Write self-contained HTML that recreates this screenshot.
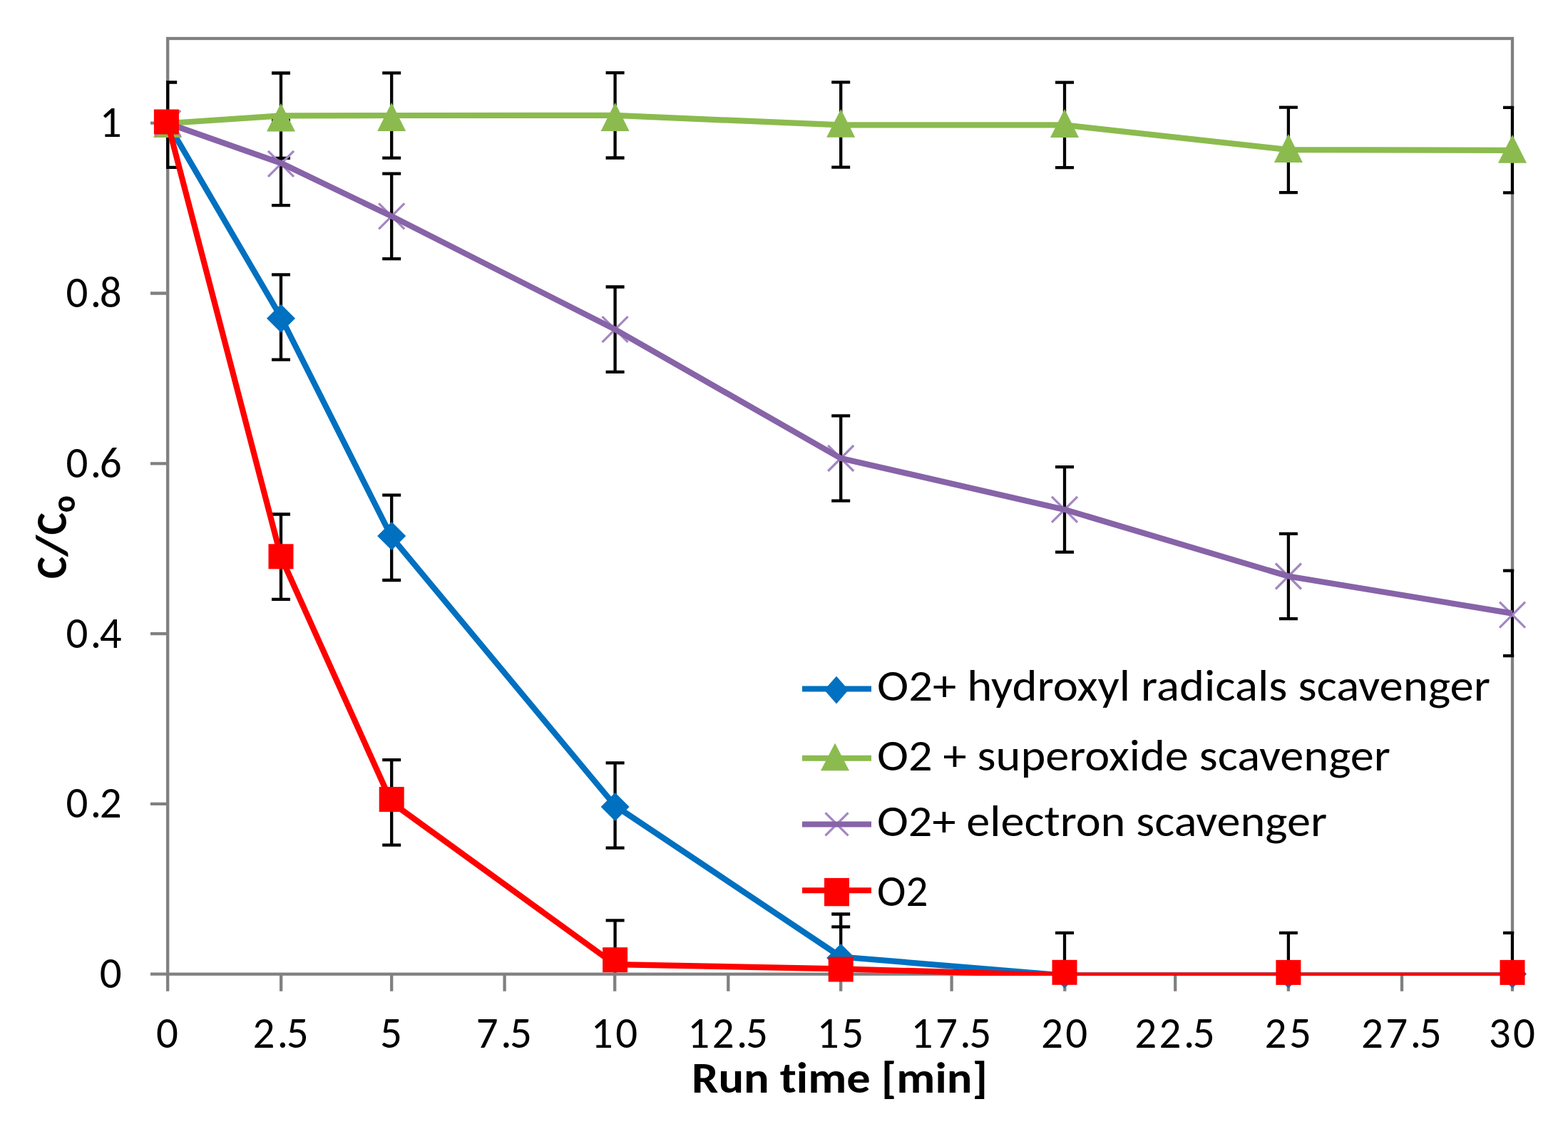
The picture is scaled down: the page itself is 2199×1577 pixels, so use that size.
<!DOCTYPE html>
<html><head><meta charset="utf-8"><title>C/C0 vs Run time</title>
<style>html,body{margin:0;padding:0;background:#fff;width:2199px;height:1577px;overflow:hidden}svg{display:block}</style>
</head><body><svg width="2199" height="1577" viewBox="0 0 2199 1577" font-family="Carlito, 'Liberation Sans', sans-serif" font-size="61" style="font-variant-ligatures:none"><rect width="2199" height="1577" fill="#fff"/><defs><clipPath id="pa"><rect x="233" y="54.0" width="1890.1999999999998" height="1314.9"/></clipPath><clipPath id="pe"><rect x="233" y="54.0" width="1890.1999999999998" height="1310.6"/></clipPath></defs><rect x="235.2" y="54.0" width="1885.8" height="1312.7" fill="none" stroke="#808080" stroke-width="4.3"/><path d="M211 1366.7H235.2M211 1127.9H235.2M211 889.1H235.2M211 650.3H235.2M211 411.5H235.2M211 172.7H235.2M235.2 1366.7V1390.7M394.2 1366.7V1390.7M549.2 1366.7V1390.7M707.6 1366.7V1390.7M862.2 1366.7V1390.7M1021.3 1366.7V1390.7M1179.2 1366.7V1390.7M1334.6 1366.7V1390.7M1493.3 1366.7V1390.7M1648.2 1366.7V1390.7M1806.9 1366.7V1390.7M1966 1366.7V1390.7M2121 1366.7V1390.7" stroke="#808080" stroke-width="4.3" fill="none"/><path d="M394 385.3V504.7M381 385.3H407M381 504.7H407M549.2 694.6V814M536.2 694.6H562.2M536.2 814H562.2M862.6 1070.3V1189.7M849.6 1070.3H875.6M849.6 1189.7H875.6M1179.2 1282.5V1401.9M1166.2 1282.5H1192.2M1166.2 1401.9H1192.2M1493 1308.9V1428.3M1480 1308.9H1506M1480 1428.3H1506M1806.9 1308.9V1428.3M1793.9 1308.9H1819.9M1793.9 1428.3H1819.9M2121 1308.9V1428.3M2108 1308.9H2134M2108 1428.3H2134M394 102.5V221.9M381 102.5H407M381 221.9H407M549.2 102.3V221.7M536.2 102.3H562.2M536.2 221.7H562.2M862.6 102.1V221.5M849.6 102.1H875.6M849.6 221.5H875.6M1179.2 115.3V234.7M1166.2 115.3H1192.2M1166.2 234.7H1192.2M1493 115.7V235.1M1480 115.7H1506M1480 235.1H1506M1806.9 150.7V270.1M1793.9 150.7H1819.9M1793.9 270.1H1819.9M2121 150.9V270.3M2108 150.9H2134M2108 270.3H2134M394 168.7V288.1M381 168.7H407M381 288.1H407M549.2 243.7V363.1M536.2 243.7H562.2M536.2 363.1H562.2M862.6 402.5V521.9M849.6 402.5H875.6M849.6 521.9H875.6M1179.2 583.3V702.7M1166.2 583.3H1192.2M1166.2 702.7H1192.2M1493 655.2V774.6M1480 655.2H1506M1480 774.6H1506M1806.9 748.8V868.2M1793.9 748.8H1819.9M1793.9 868.2H1819.9M2121 800.7V920.1M2108 800.7H2134M2108 920.1H2134M235.2 115.5V234.9M222.2 115.5H248.2M222.2 234.9H248.2M394 721.5V840.9M381 721.5H407M381 840.9H407M549.2 1066.2V1185.6M536.2 1066.2H562.2M536.2 1185.6H562.2M862.6 1291.3V1410.7M849.6 1291.3H875.6M849.6 1410.7H875.6M1179.2 1300.3V1419.7M1166.2 1300.3H1192.2M1166.2 1419.7H1192.2M1493 1308.9V1428.3M1480 1308.9H1506M1480 1428.3H1506M1806.9 1308.8V1428.2M1793.9 1308.8H1819.9M1793.9 1428.2H1819.9M2121 1308.9V1428.3M2108 1308.9H2134M2108 1428.3H2134" stroke="#000" stroke-width="4.3" fill="none" clip-path="url(#pe)"/><polyline points="235.2,173 394,445 549.2,753.5 862.6,1130.5 1179.2,1342.5 1493,1368.5 1806.9,1368.5 2121,1368.5" stroke="#0070C0" stroke-width="8.2" fill="none" stroke-linejoin="round" clip-path="url(#pa)"/><polygon points="235.2,153 255.2,173 235.2,193 215.2,173" fill="#0070C0"/><polygon points="394,426.8 414,446.8 394,466.8 374,446.8" fill="#0070C0"/><polygon points="549.2,732 569.2,752 549.2,772 529.2,752" fill="#0070C0"/><polygon points="862.6,1112 882.6,1132 862.6,1152 842.6,1132" fill="#0070C0"/><polygon points="1179.2,1324 1199.2,1344 1179.2,1364 1159.2,1344" fill="#0070C0"/><polygon points="1493,1346.5 1513,1366.5 1493,1386.5 1473,1366.5" fill="#0070C0"/><polygon points="1806.9,1346.5 1826.9,1366.5 1806.9,1386.5 1786.9,1366.5" fill="#0070C0"/><polygon points="2121,1346.5 2141,1366.5 2121,1386.5 2101,1366.5" fill="#0070C0"/><polyline points="235.2,173 394,162.4 549.2,162 862.6,161.9 1179.2,175.4 1493,175.4 1806.9,210.2 2121,210.8" stroke="#8BBB4E" stroke-width="8.2" fill="none" stroke-linejoin="round" clip-path="url(#pa)"/><polygon points="235.2,153.1 255.2,192.9 215.2,192.9" fill="#8BBB4E"/><polygon points="394,144.8 414,184.6 374,184.6" fill="#8BBB4E"/><polygon points="549.2,144.1 569.2,183.9 529.2,183.9" fill="#8BBB4E"/><polygon points="862.6,144.1 882.6,183.9 842.6,183.9" fill="#8BBB4E"/><polygon points="1179.2,153 1199.2,192.8 1159.2,192.8" fill="#8BBB4E"/><polygon points="1493,153.1 1513,192.9 1473,192.9" fill="#8BBB4E"/><polygon points="1806.9,188.1 1826.9,227.9 1786.9,227.9" fill="#8BBB4E"/><polygon points="2121,188.9 2141,228.7 2101,228.7" fill="#8BBB4E"/><path d="M217.2 155L253.2 191M253.2 155L217.2 191" stroke="#A387C3" stroke-width="3.2" fill="none"/><path d="M376 211.9L412 247.9M412 211.9L376 247.9" stroke="#A387C3" stroke-width="3.2" fill="none"/><path d="M531.2 285.4L567.2 321.4M567.2 285.4L531.2 321.4" stroke="#A387C3" stroke-width="3.2" fill="none"/><path d="M844.6 444.2L880.6 480.2M880.6 444.2L844.6 480.2" stroke="#A387C3" stroke-width="3.2" fill="none"/><path d="M1161.2 625L1197.2 661M1197.2 625L1161.2 661" stroke="#A387C3" stroke-width="3.2" fill="none"/><path d="M1475 696.9L1511 732.9M1511 696.9L1475 732.9" stroke="#A387C3" stroke-width="3.2" fill="none"/><path d="M1788.9 790.5L1824.9 826.5M1824.9 790.5L1788.9 826.5" stroke="#A387C3" stroke-width="3.2" fill="none"/><path d="M2103 844.7L2139 880.7M2139 844.7L2103 880.7" stroke="#A387C3" stroke-width="3.2" fill="none"/><polyline points="235.2,173 394,228.8 549.2,303.4 862.6,462.2 1179.2,643 1493,714.9 1806.9,808.5 2121,860.6" stroke="#8763A8" stroke-width="8.2" fill="none" stroke-linejoin="round" clip-path="url(#pa)"/><polyline points="235.2,173 394,781.2 549.2,1125.9 862.6,1353.2 1179.2,1359.3 1493,1368.5 1806.9,1368.5 2121,1368.5" stroke="#FF0000" stroke-width="8.2" fill="none" stroke-linejoin="round" clip-path="url(#pa)"/><rect x="215.9" y="153.5" width="35" height="35" fill="#FF0000"/><rect x="376.5" y="763.3" width="35" height="35" fill="#FF0000"/><rect x="531.7" y="1104" width="35" height="35" fill="#FF0000"/><rect x="845.1" y="1329.2" width="35" height="35" fill="#FF0000"/><rect x="1161.7" y="1342.5" width="35" height="35" fill="#FF0000"/><rect x="1475.5" y="1346.8" width="35" height="35" fill="#FF0000"/><rect x="1789.4" y="1346.9" width="35" height="35" fill="#FF0000"/><rect x="2103.5" y="1346.9" width="35" height="35" fill="#FF0000"/><path d="M1125 966.5H1222" stroke="#0070C0" stroke-width="8.2"/><polygon points="1173,948.8 1190,968.1 1173,987.5 1156,968.1" fill="#0070C0"/><path d="M1125 1063.75H1222" stroke="#8BBB4E" stroke-width="8.2"/><polygon points="1171,1042.5 1191,1081.3 1151,1081.3" fill="#8BBB4E"/><path d="M1157.5 1140.3L1189.5 1172.3M1189.5 1140.3L1157.5 1172.3" stroke="#A387C3" stroke-width="3.2" fill="none"/><path d="M1125 1156.5H1222" stroke="#8763A8" stroke-width="8.2"/><path d="M1125 1249.25H1222" stroke="#FF0000" stroke-width="8.2"/><rect x="1156" y="1231.9" width="35" height="39.4" fill="#FF0000"/><g fill="#000"><text x="139.64" y="1386.2">0</text><text x="92.38 126.74 139.64" y="1147.4">0.2</text><text x="92.38 126.74 139.64" y="908.6">0.4</text><text x="92.38 126.74 139.64" y="669.8">0.6</text><text x="92.38 126.74 139.64" y="431">0.8</text><text x="139.64" y="192.2">1</text><text x="219.02" y="1470">0</text><text x="354.39 388.75 401.65" y="1470">2.5</text><text x="533.02" y="1470">5</text><text x="667.79 702.15 715.05" y="1470">7.5</text><text x="828.84 863.2" y="1470">10</text><text x="964.31 998.67 1033.03 1045.93" y="1470">12.5</text><text x="1145.84 1180.2" y="1470">15</text><text x="1277.61 1311.97 1346.33 1359.23" y="1470">17.5</text><text x="1459.94 1494.3" y="1470">20</text><text x="1591.21 1625.57 1659.93 1672.83" y="1470">22.5</text><text x="1773.54 1807.9" y="1470">25</text><text x="1909.01 1943.37 1977.73 1990.63" y="1470">27.5</text><text x="2087.64 2122" y="1470">30</text><text x="970" y="1533.2" font-weight="bold" textLength="415" lengthAdjust="spacingAndGlyphs">Run time [min]</text><g transform="translate(92.5 812) rotate(-90)" font-weight="bold"><text x="0" y="0" textLength="31.1" lengthAdjust="spacingAndGlyphs">C</text><text x="31.1" y="0" textLength="30.42" lengthAdjust="spacingAndGlyphs">/</text><text x="61.52" y="0" textLength="31.29" lengthAdjust="spacingAndGlyphs">C</text><text x="92.81" y="12" font-size="46" textLength="24.2" lengthAdjust="spacingAndGlyphs">o</text></g><text x="1230" y="983.25" textLength="860" lengthAdjust="spacingAndGlyphs">O2+ hydroxyl radicals scavenger</text><text x="1230" y="1080.75" textLength="720" lengthAdjust="spacingAndGlyphs">O2 + superoxide scavenger</text><text x="1230" y="1173.25" textLength="631" lengthAdjust="spacingAndGlyphs">O2+ electron scavenger</text><text x="1230" y="1270.75">O2</text></g></svg></body></html>
